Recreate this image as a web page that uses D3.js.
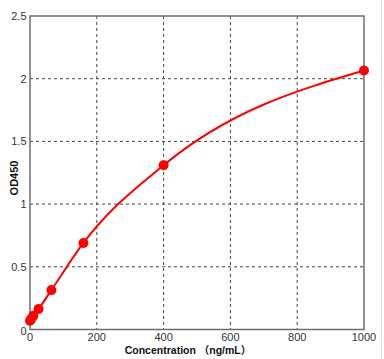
<!DOCTYPE html>
<html><head><meta charset="utf-8">
<script src="https://cdn.jsdelivr.net/npm/d3@7"></script>
<style>
html,body{margin:0;padding:0;background:#fff;}
svg{display:block;}
text{font-family:Arial,"Liberation Sans",sans-serif;}
</style></head>
<body>
<svg id="c" width="384" height="359"></svg>
<script>
const concentrations = [0, 4.1, 10.24, 25.6, 64, 160, 400, 1000];
const odValues = [0.07, 0.085, 0.11, 0.163, 0.314, 0.69, 1.31, 2.065];
const xTicks = [0, 200, 400, 600, 800, 1000];
const yTicks = [0, 0.5, 1, 1.5, 2, 2.5];
const yTickLabels = ["0", "0.5", "1", "1.5", "2", "2.5"];

(function () {
const svg = d3.select("#c");
const pLeft = 30, pRight = 364, pTop = 16, pBottom = 329.5;
const x = d3.scaleLinear().domain([0, 1000]).range([pLeft, pRight]);
const y = d3.scaleLinear().domain([0, 2.5]).range([pBottom, pTop]);

// window edge
svg.append("line").attr("x1", 381.5).attr("x2", 381.5).attr("y1", 0).attr("y2", 359)
  .attr("stroke", "#e4e4e4").attr("stroke-width", 1);

// grid
svg.append("g").selectAll("line").data(xTicks.slice(1, -1)).join("line")
  .attr("x1", d => x(d)).attr("x2", d => x(d)).attr("y1", pTop).attr("y2", pBottom)
  .attr("stroke", "#444").attr("stroke-width", 1).attr("stroke-dasharray", "3,3");
svg.append("g").selectAll("line").data(yTicks.slice(1, -1)).join("line")
  .attr("x1", pLeft).attr("x2", pRight).attr("y1", d => y(d)).attr("y2", d => y(d))
  .attr("stroke", "#444").attr("stroke-width", 1).attr("stroke-dasharray", "3,3");

// frame
svg.append("rect").attr("x", pLeft).attr("y", pTop).attr("width", pRight - pLeft).attr("height", pBottom - pTop)
  .attr("fill", "none").attr("stroke", "#6e6e6e").attr("stroke-width", 1.5);

// tick labels
svg.append("g").selectAll("text").data(xTicks).join("text")
  .attr("x", d => x(d)).attr("y", 340.5).attr("text-anchor", "middle")
  .attr("font-size", 11).attr("fill", "#333").text(d => d);
svg.append("g").selectAll("text").data(yTicks).join("text")
  .attr("x", 26.5).attr("y", (d) => y(d) + (d === 0 ? 5 : 4)).attr("text-anchor", "end")
  .attr("font-size", 11).attr("fill", "#333").text((d, i) => yTickLabels[i]);

// axis titles
svg.append("text").attr("x", 188).attr("y", 353.5).attr("text-anchor", "middle")
  .attr("font-size", 10.5).attr("font-weight", "bold").attr("fill", "#111")
  .style("font-family", "Arial, 'Liberation Sans', 'Noto Sans CJK SC', sans-serif")
  .text("Concentration （ng/mL）");
svg.append("text").attr("transform", "translate(18,178) rotate(-90)").attr("text-anchor", "middle")
  .attr("font-size", 11).attr("font-weight", "bold").attr("fill", "#111").text("OD450");

// curve
const pts = concentrations.map((c, i) => [c, odValues[i]]);
const line = d3.line().x(d => x(d[0])).y(d => y(d[1])).curve(d3.curveMonotoneX);
svg.append("path").attr("d", line(pts)).attr("fill", "none").attr("stroke", "#ff0000").attr("stroke-width", 2);

// points
svg.append("g").selectAll("circle").data(pts).join("circle")
  .attr("cx", d => x(d[0])).attr("cy", d => y(d[1])).attr("r", 5).attr("fill", "#ff0000");
})();
</script>
</body></html>
